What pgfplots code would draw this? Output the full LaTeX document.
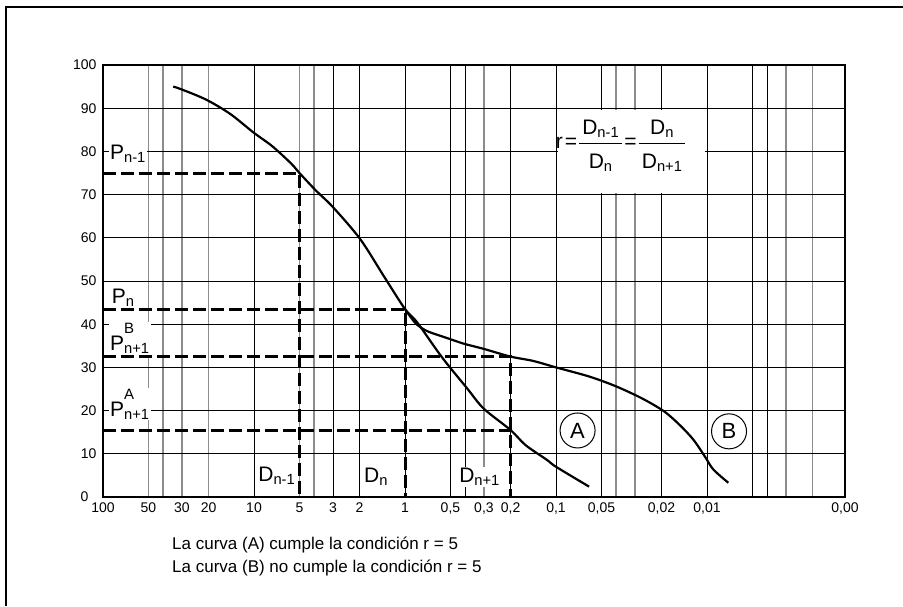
\documentclass[border=0pt]{standalone}
\usepackage{pgfplots}
\pgfplotsset{compat=1.18}
\usepackage{fontspec}
\setmainfont{Liberation Sans}

\tikzset{
  dashln/.style={black, line width=3pt, dash pattern=on 13pt off 5pt},
  curve/.style={black, line width=2.2pt, smooth, tension=0.5},
  lbl/.style={fill=white, inner sep=1pt, font=\fontsize{21}{24}\selectfont},
  circ/.style={circle, draw, line width=1pt, minimum size=35pt, inner sep=0pt,
               font=\fontsize{22}{24}\selectfont},
}
\newcommand{\sups}[1]{\rlap{\raisebox{17pt}{\fontsize{15}{15}\selectfont #1}}}
\newcommand{\num}[1]{\mbox{\kern3pt#1\kern3pt}\rule[-7pt]{0pt}{7pt}}
\newcommand{\den}[1]{\rule{0pt}{23pt}\mbox{\kern3pt#1\kern3pt}}

\begin{document}
\begin{tikzpicture}
\useasboundingbox (0pt,0pt) rectangle (903pt,-606pt);
\draw[line width=2.5pt] (6pt,-606pt) -- (6pt,-7pt) -- (903pt,-7pt);

\begin{axis}[
  at={(103pt,-497pt)}, anchor=south west,
  scale only axis, width=742pt, height=432pt,
  xmode=log, x dir=reverse,
  xmin=0.00122, xmax=100, ymin=0, ymax=100,
  axis line style={line width=2.8pt},
  % labelled positions on the particle-size axis
  xtick={100,50,30,20,10,5,3,2,1,0.5,0.3,0.2,0.1,0.05,0.02,0.01,0.00122},
  xticklabels={100,50,30,20,10,5,3,2,1,{0,5},{0,3},{0,2},{0,1},{0,05},{0,02},{0,01},{0,00}},
  xmajorgrids=false,
  % dark grid lines
  extra x ticks={10,3,2,1,0.5,0.4,0.2,0.1,0.05,0.02,0.01,0.005,0.004},
  extra x tick labels={},
  extra x tick style={grid=major},
  % light grid lines
  minor xtick={50,40,30,20,5,4,0.3,0.04,0.03,0.003,0.002},
  xminorgrids=true,
  ytick={10,20,...,100},
  ymajorgrids=true,
  extra y ticks={0},
  extra y tick style={yticklabel style={xshift=-8pt}},
  major grid style={black, line width=0.8pt},
  minor grid style={black!45, line width=1.3pt},
  major tick length=0pt, minor tick length=0pt,
  /pgf/number format/assume math mode=true,
  xticklabel style={font=\fontsize{14}{16}\selectfont, yshift=-2pt},
  yticklabel style={font=\fontsize{14}{16}\selectfont, xshift=-3pt},
]

% curve A (common upper branch included)
\addplot[curve] coordinates {
  (34.3,95.0) (30.4,94.4) (20.8,92.0) (14.4,88.7) (10.1,84.4) (7.57,81.2)
  (5.68,77.2) (5,75) (3.88,70.9) (3.0,67.1) (1.98,59.7) (1.38,51.1)
  (1,43.5) (0.83,40.4) (0.568,32.3) (0.389,25.2) (0.302,20.5) (0.2,15.5)
  (0.159,12.0) (0.115,8.6) (0.1,7.0) (0.0604,2.4)
};
% curve B
\addplot[curve] coordinates {
  (1,43.5) (0.85,40.2) (0.713,38.4) (0.527,36.8) (0.409,35.5) (0.302,34.3)
  (0.2,32.5) (0.1417,31.5) (0.1,30.0) (0.0604,27.9) (0.0406,25.7)
  (0.0272,22.9) (0.0192,19.8) (0.015,16.5) (0.01227,13.2) (0.0103,9.3)
  (0.0091,6.4) (0.00723,3.3)
};

% construction lines
\addplot[dashln] coordinates {(100,75) (5,75) (5,0)};
\addplot[dashln] coordinates {(100,43.5) (1,43.5) (1,0)};
\addplot[dashln] coordinates {(100,32.5) (0.2,32.5) (0.2,0)};
\addplot[dashln] coordinates {(100,15.5) (0.2,15.5)};

% labels
\node[lbl, anchor=base west] at (axis cs:91.3,78.2) {P\textsubscript{n-1}};
\node[lbl, anchor=base west] at (axis cs:89.0,44.9) {P\textsubscript{n}};
\node[lbl, anchor=base west] at (axis cs:91.3,33.9) {P\sups{B}\textsubscript{n+1}};
\node[lbl, anchor=base west] at (axis cs:91.3,18.75) {P\sups{A}\textsubscript{n+1}};
\node[lbl, anchor=base east] at (axis cs:5.23,3.5) {D\textsubscript{n-1}};
\node[lbl, anchor=base west] at (axis cs:1.90,3.3) {D\textsubscript{n}};
\node[lbl, anchor=base east] at (axis cs:0.231,3.3) {D\textsubscript{n+1}};

\node[circ] at (axis cs:0.072,15.4) {A};
\node[circ] at (axis cs:0.00715,15.2) {B};

% ratio box
\fill[white] (axis cs:0.097,70.4) rectangle (axis cs:0.0103,89.6);
\node[font=\fontsize{21}{24}\selectfont, inner sep=0pt] at (axis cs:0.037,81.3)
  {r\kern2pt=\kern1pt$\displaystyle\frac{\num{D\textsubscript{n-1}}}{\den{D\textsubscript{n}}}$\kern1pt=\kern1pt$\displaystyle\frac{\num{D\textsubscript{n}}}{\den{D\textsubscript{n+1}}}$};
\end{axis}

\node[anchor=west, font=\fontsize{17}{20}\selectfont, inner sep=0pt] at (172pt,-545pt)
  {La curva (A) cumple la condición r = 5};
\node[anchor=west, font=\fontsize{17}{20}\selectfont, inner sep=0pt] at (172pt,-568pt)
  {La curva (B) no cumple la condición r = 5};
\end{tikzpicture}
\end{document}
